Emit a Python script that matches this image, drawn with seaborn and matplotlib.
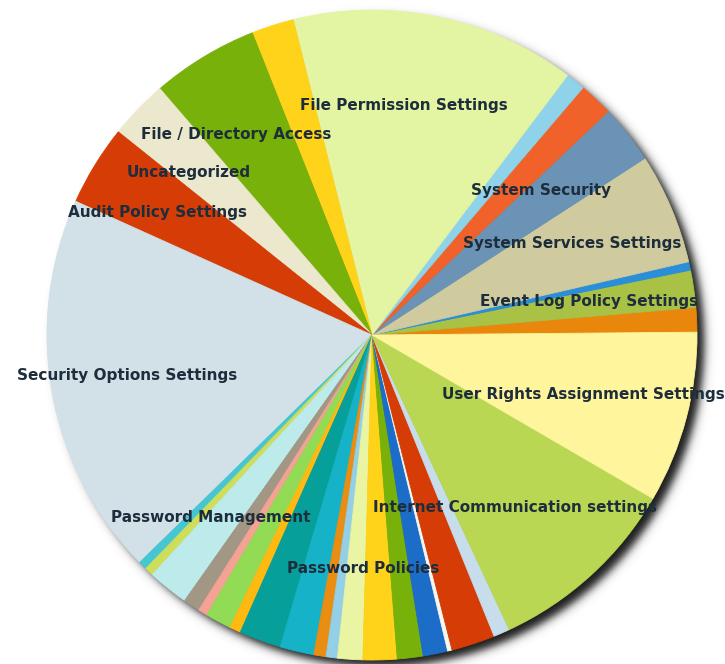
import numpy as np
import matplotlib
matplotlib.use("Agg")
import matplotlib.pyplot as plt
import seaborn as sns

# Slice shares (percent of all checks), counter-clockwise from the east
shares = [1.21, 1.85, 0.42, 5.53, 2.92, 1.69, 0.97, 14.17, 2.11, 5.31,
          2.94, 4.00, 19.08, 0.42, 0.44, 2.03, 0.83, 0.47, 1.28, 0.56,
          2.08, 1.69, 0.61, 0.56, 1.25, 1.69, 1.28, 1.22, 0.22, 2.17,
          0.81, 9.67, 8.53]

labels = ["", "Event Log Policy Settings", "", "System Services Settings",
          "System Security", "", "", "File Permission Settings", "",
          "File / Directory Access", "Uncategorized", "Audit Policy Settings",
          "Security Options Settings", "", "", "Password Management", "", "",
          "", "", "", "", "", "", "", "Password Policies", "", "", "", "",
          "", "Internet Communication settings",
          "User Rights Assignment Settings"]

colors = ["#E8870B", "#A9C246", "#2A8FD8", "#CFCB9E", "#6A93B5", "#F0622A",
          "#8ED3EA", "#E3F5A3", "#FFD319", "#78B10A", "#ECE8CE", "#D63C05",
          "#D2E0E8", "#45C7D3", "#CFDE5A", "#BDEBEC", "#A19784", "#F4A294",
          "#92DC55", "#FFBA12", "#079F9A", "#16B3C8", "#E98E12", "#93CFE6",
          "#EAF5A4", "#FFD319", "#78B10A", "#1C6DC7", "#F7F7EE", "#D63C05",
          "#C8DDEB", "#B9D753", "#FFF59C"]

sns.set_theme(style="white")
plt.rcParams["font.family"] = ["DejaVu Sans"]

W, H, DPI = 725, 664, 100
fig = plt.figure(figsize=(W / DPI, H / DPI), dpi=DPI)
ax = fig.add_axes([0, 0, 1, 1])

# pixel layout: pie centre and radius
cx, cy, rad = 372, 335, 325
xmin, xmax = -cx / rad, (W - cx) / rad
ymin, ymax = -(H - cy) / rad, cy / rad

# soft drop shadow under the pie
gx = np.linspace(xmin, xmax, 900)
gy = np.linspace(ymin, ymax, 820)
X, Y = np.meshgrid(gx, gy)
d = np.hypot(X - 0.024, Y + 0.022)
alpha = 0.9 / (1 + np.exp((d - 1.0) / 0.008))
img = np.zeros(X.shape + (4,))
img[..., 3] = alpha
ax.imshow(img, extent=[xmin, xmax, ymin, ymax], origin="lower",
          interpolation="bilinear", zorder=0)

wedges, _ = ax.pie(shares, colors=colors, startangle=0.5, counterclock=True,
                   radius=1, center=(0, 0),
                   wedgeprops=dict(linewidth=0.6, zorder=1))
for w in wedges:
    w.set_edgecolor(w.get_facecolor())

for w, lab in zip(wedges, labels):
    if not lab:
        continue
    mid = np.deg2rad((w.theta1 + w.theta2) / 2)
    ax.text(0.72 * np.cos(mid) - 0.046, 0.72 * np.sin(mid), lab,
            ha="center", va="center", fontsize=11, fontweight="bold",
            color="#1E2D3B", zorder=5)

ax.set_xlim(xmin, xmax)
ax.set_ylim(ymin, ymax)
ax.set_aspect("auto")
ax.axis("off")

fig.savefig("out.png", dpi=DPI, facecolor="white")
